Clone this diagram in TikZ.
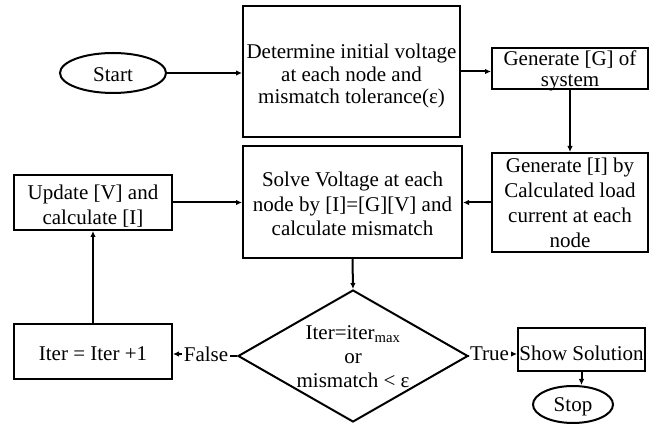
\documentclass[tikz,border=0pt]{standalone}
\usepackage{fontspec}
\setmainfont{Liberation Serif}
\usetikzlibrary{shapes.geometric,arrows.meta}
\begin{document}
\begin{tikzpicture}[x=1pt,y=-1pt, line width=2pt,
 box/.style={draw, rectangle, inner sep=0pt},
 term/.style={draw, ellipse, inner sep=0pt},
 txt/.style={inner sep=0pt, align=center, font=\fontsize{21}{#1}\selectfont},
 txt/.default=24,
 arr/.style={-{Latex[length=6pt,width=5.5pt]}},
 lbl/.style={inner sep=0.8pt, font=\fontsize{21}{24}\selectfont}]
\useasboundingbox (0,0) rectangle (657,435);
% shapes
\node[term, minimum width=106pt, minimum height=40pt] (start) at (113,73) {};
\node[box, minimum width=217pt, minimum height=131pt] (det) at (351.5,71.5) {};
\node[box, minimum width=156pt, minimum height=41pt] (geng) at (570,68.5) {};
\node[box, minimum width=156pt, minimum height=99pt] (geni) at (570,202.5) {};
\node[box, minimum width=219pt, minimum height=112pt] (solve) at (352.5,202) {};
\node[box, minimum width=158pt, minimum height=55pt] (upd) at (93,202.5) {};
\node[box, minimum width=158pt, minimum height=55pt] (iter) at (93,351.5) {};
\node[draw, diamond, minimum width=230pt, minimum height=132pt, inner sep=0pt] (dec) at (353,356) {};
\node[box, minimum width=127pt, minimum height=43pt] (show) at (581.5,349.5) {};
\node[term, minimum width=80pt, minimum height=37pt] (stop) at (573,404.5) {};
% texts
\node[txt] (tstart) at (113,75) {Start};
\node[txt=22.5] (tdet) at (351.5,76) {Determine initial voltage\\at each node and\\mismatch tolerance(ε)};
\node[txt=20.5] (tgeng) at (570,71) {Generate [G] of\\system};
\node[txt=25] (tgeni) at (570,203) {Generate [I] by\\Calculated load\\current at each\\node};
\node[txt=24.5] (tsolve) at (352.5,204) {Solve Voltage at each\\node by [I]=[G][V] and\\calculate mismatch};
\node[txt=25] (tupd) at (93,206.5) {Update [V] and\\calculate [I]};
\node[txt] (titer) at (93,353.5) {Iter = Iter +1};
\node[txt] (tdec) at (353,357) {Iter=iter\textsubscript{max}\\or\\mismatch < ε};
\node[txt] (tshow) at (581.5,353.5) {Show Solution};
\node[txt] (tstop) at (573,407) {Stop};
\node[lbl] (false) at (206,354) {False};
\node[lbl] (true) at (489.5,354) {True};
% connectors
\draw[arr] (start.east) -- (start.east -| det.west);
\draw[arr] (det.east) -- (det.east -| geng.west);
\draw[arr] (geng.south) -- (geni.north);
\draw[arr] (geni.west) -- (geni.west -| solve.east);
\draw[arr] (upd.east) -- (upd.east -| solve.west);
\draw[arr] (solve.south) -- (dec.north);
\draw (dec.west) -- (dec.west -| false.east);
\draw[arr] (false.west) -- (false.west -| iter.east);
\draw[arr] (iter.north) -- (upd.south);
\draw (dec.east) -- (dec.east -| true.west);
\draw[arr] (true.east) -- (true.east -| show.west);
\draw[arr] (show.south) -- (show.south |- stop.north);
\end{tikzpicture}
\end{document}
